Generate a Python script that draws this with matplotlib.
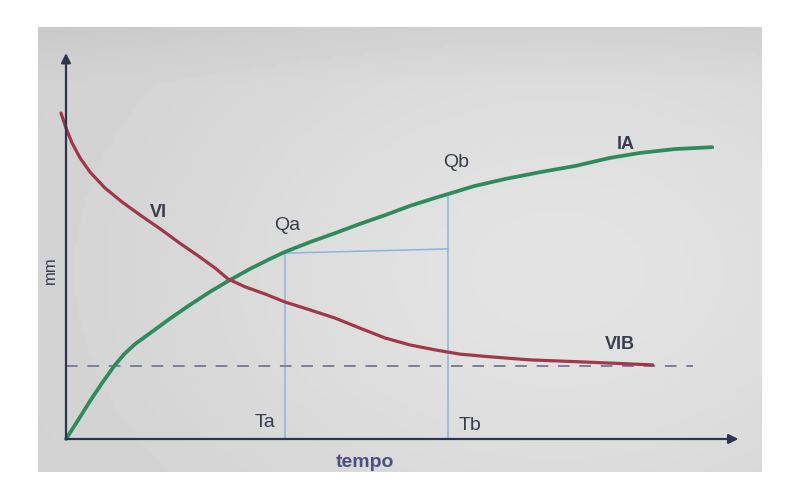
import matplotlib.pyplot as plt
import numpy as np

plt.rcParams['font.family'] = ['Liberation Sans', 'DejaVu Sans']

# curve IA (accumulated infiltration)
ia_x = [0, 1.8, 3.6, 5.4, 7.2, 8.7, 10.3, 12.6, 15.5, 18.5, 21.5, 24.2, 27.5, 30.5,
        32.7, 36.5, 40.2, 43.9, 47.7, 51.4, 55.2, 57.1, 61.1, 65.6, 70.9, 76.1,
        81.3, 85.8, 91.0, 96.6]
ia_y = [0, 4.9, 9.9, 14.6, 19.0, 22.1, 24.7, 27.6, 31.3, 34.9, 38.3, 41.1, 44.3, 46.9,
        48.7, 51.3, 53.6, 56.0, 58.3, 60.7, 62.8, 63.8, 65.9, 67.7, 69.5, 71.1,
        73.2, 74.5, 75.5, 76.0]

# curve VI (infiltration rate)
vi_x = [-0.75, 0, 0.9, 2.1, 3.6, 5.8, 8.4, 11.1, 14.1, 17.0, 20.0, 22.3, 24.2, 26.8,
        29.7, 32.7, 36.5, 40.2, 43.9, 47.7, 51.4, 55.2, 58.9, 63.4, 69.4, 76.8, 87.7]
vi_y = [84.9, 81.0, 77.1, 73.2, 69.5, 65.4, 61.7, 58.3, 54.7, 51.0, 47.4, 44.5, 41.7, 39.6,
        37.8, 35.7, 33.6, 31.5, 28.9, 26.3, 24.5, 23.2, 22.1, 21.4, 20.6, 20.1, 19.3]

vib = 19.0          # basic infiltration rate
vib_end = 93.7
ta, tb = 32.7, 57.1
qa, qb = 48.4, 63.8
qa_right = 49.5

fig = plt.figure(figsize=(8, 5), dpi=100)
fig.patch.set_facecolor("white")

# grey photo panel with a soft light spot
bg = fig.add_axes([38 / 800, 1 - 472 / 500, 724 / 800, 445 / 500])
gx, gy = np.meshgrid(np.linspace(0, 1, 200), np.linspace(0, 1, 120))
grad = 0.81 + 0.08 * np.exp(-((gx - 0.72) ** 2 / 0.35 + (gy - 0.55) ** 2 / 0.45))
grad -= 0.03 * np.clip(1 - gy * 8, 0, 1)
bg.imshow(grad, cmap="gray", vmin=0, vmax=1, aspect="auto", origin="upper",
          extent=[0, 1, 0, 1])
bg.set_axis_off()

ax = fig.add_axes([66 / 800, 1 - 439 / 500, 669 / 800, 384 / 500])
ax.set_xlim(0, 100)
ax.set_ylim(0, 100)
ax.patch.set_alpha(0)
ax.set_axis_off()

axis_col = "#2c3450"
ax.annotate("", xy=(0, 100.5), xytext=(0, 0), annotation_clip=False,
            arrowprops=dict(arrowstyle="-|>", color=axis_col, lw=1.6, mutation_scale=14,
                            shrinkA=0, shrinkB=0))
ax.annotate("", xy=(100.5, 0), xytext=(0, 0), annotation_clip=False,
            arrowprops=dict(arrowstyle="-|>", color=axis_col, lw=1.6, mutation_scale=14,
                            shrinkA=0, shrinkB=0))

# helper lines
blue = "#8db4dc"
ax.plot([ta, ta], [0, qa], color=blue, lw=1.1)
ax.plot([tb, tb], [0, qb], color=blue, lw=1.1)
ax.plot([ta, tb], [qa, qa_right], color=blue, lw=1.1)
ax.plot([0, vib_end], [vib, vib], color="#7b8099", lw=1.4, dashes=(6, 5))

ax.plot(ia_x, ia_y, color="#2f8a5c", lw=2.7, solid_capstyle="round",
        solid_joinstyle="round", clip_on=False)
ax.plot(vi_x, vi_y, color="#a0384a", lw=2.3, solid_capstyle="round",
        solid_joinstyle="round", clip_on=False)

txt = "#383d4d"
ax.text(13.8, 58.9, "VI", fontsize=13, fontweight="bold", color=txt, ha="center", va="center")
ax.text(33.0, 55.7, "Qa", fontsize=14, color=txt, ha="center", va="center")
ax.text(58.3, 71.9, "Qb", fontsize=14, color=txt, ha="center", va="center")
ax.text(83.6, 76.6, "IA", fontsize=13, fontweight="bold", color=txt, ha="center", va="center")
ax.text(82.8, 24.5, "VIB", fontsize=13, fontweight="bold", color=txt, ha="center", va="center")
ax.text(29.7, 4.4, "Ta", fontsize=14, color=txt, ha="center", va="center")
ax.text(60.4, 3.6, "Tb", fontsize=14, color=txt, ha="center", va="center")
ax.text(44.7, -6.0, "tempo", fontsize=14, fontweight="bold", color="#4a5080",
        ha="center", va="center")
ax.text(-2.4, 44, "mm", fontsize=12, color=txt, rotation=90, ha="center", va="center")

fig.savefig("out.png", dpi=100, facecolor="white")
